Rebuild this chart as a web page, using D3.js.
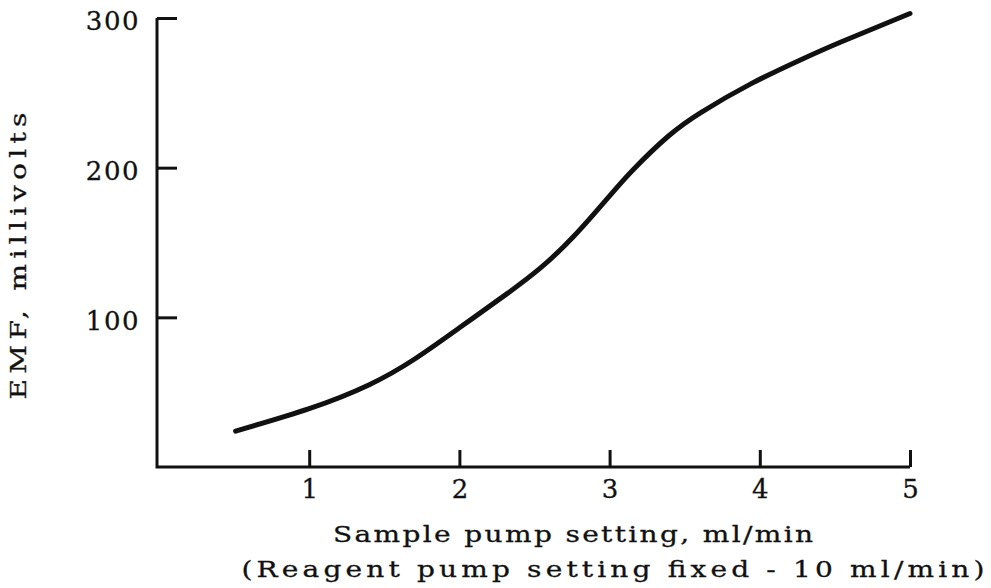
<!DOCTYPE html>
<html>
<head>
<meta charset="utf-8">
<script src="https://cdn.jsdelivr.net/npm/d3@7"></script>
<style>
  html, body { margin: 0; padding: 0; background: #fff; }
  svg { display: block; }
  text { font-family: "DejaVu Serif", serif; fill: #111; stroke: #111; stroke-width: 0.3px; }
</style>
</head>
<body>
<div id="chart"></div>
<script>
// sample pump setting (ml/min) and EMF (mV)
const pumpSetting = [0.51, 1.0, 1.4, 1.7, 2.0, 2.32, 2.54, 2.76, 2.99, 3.16, 3.39, 3.61, 3.94, 4.27, 4.54, 5.0];
const emf = [24, 39, 55, 72, 93, 116, 133, 154, 180, 199, 221, 237, 256, 272, 284, 303];
const xTicks = [1, 2, 3, 4, 5];
const yTicks = [100, 200, 300];

const width = 991;
const height = 588;

const svg = d3.select("#chart")
    .append("svg")
    .attr("width", width)
    .attr("height", height);

const x = d3.scaleLinear().domain([0, 5]).range([159, 910]);
const y = d3.scaleLinear().domain([0, 300]).range([467, 18]);

const ink = "#111";
const widen = 1.22; // typewriter glyphs are wider than DejaVu Serif

// y axis, ticks point inward
const yAxis = svg.append("g")
    .attr("transform", `translate(157,0)`)
    .call(d3.axisLeft(y).tickValues(yTicks).tickSize(-20).tickPadding(17).tickFormat(d3.format("d")));
yAxis.select(".domain").remove();
yAxis.selectAll(".tick line").attr("stroke", ink).attr("stroke-width", 3);
yAxis.selectAll(".tick text")
    .attr("font-size", 26)
    .attr("font-family", "DejaVu Serif")
    .attr("letter-spacing", 1.5)
    .attr("dy", "0.45em")
    .attr("fill", ink);

// x axis, ticks point up
const xAxis = svg.append("g")
    .attr("transform", `translate(0,${y(0)})`)
    .call(d3.axisBottom(x).tickValues(xTicks).tickSize(-17).tickPadding(13).tickFormat(d3.format("d")));
xAxis.select(".domain").remove();
xAxis.selectAll(".tick line").attr("stroke", ink).attr("stroke-width", 3);
xAxis.selectAll(".tick text")
    .attr("font-size", 26)
    .attr("font-family", "DejaVu Serif")
    .attr("fill", ink);

// axis lines
svg.append("path")
    .attr("d", `M${157},${y(300)}V${y(0)}H${x(5)}`)
    .attr("fill", "none")
    .attr("stroke", ink)
    .attr("stroke-width", 3);

// curve
const line = d3.line()
    .x((d, i) => x(pumpSetting[i]))
    .y(d => y(d))
    .curve(d3.curveNatural);

svg.append("path")
    .datum(emf)
    .attr("d", line)
    .attr("fill", "none")
    .attr("stroke", ink)
    .attr("stroke-width", 5)
    .attr("stroke-linecap", "round");

// axis titles, stretched to the typewriter widths of the original
function title(str, cx, cy, len, rotate) {
    svg.append("text")
        .attr("transform", `translate(${cx},${cy}) rotate(${rotate}) scale(${widen},1)`)
        .attr("text-anchor", "middle")
        .attr("font-size", 23)
        .attr("textLength", len / widen)
        .attr("lengthAdjust", "spacing")
        .text(str);
}

title("Sample pump setting, ml/min", 573, 542, 480, 0);
title("(Reagent pump setting fixed - 10 ml/min)", 613, 577, 743, 0);
title("EMF, millivolts", 26, 256, 287, -90);
</script>
</body>
</html>
